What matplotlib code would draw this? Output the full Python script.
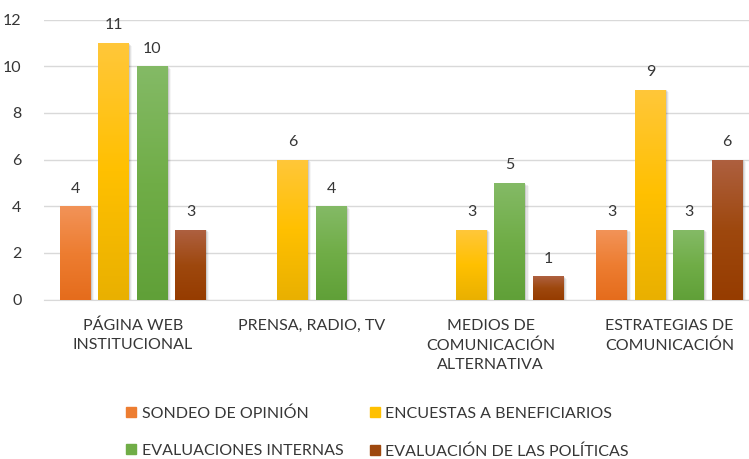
import matplotlib.pyplot as plt
import matplotlib.colors as mcolors
from matplotlib.patches import Rectangle
import numpy as np

plt.rcParams['font.family'] = ['Lato', 'DejaVu Sans']

categorias = ['PÁGINA WEB\nINSTITUCIONAL', 'PRENSA, RADIO, TV',
              'MEDIOS DE\nCOMUNICACIÓN\nALTERNATIVA', 'ESTRATEGIAS DE\nCOMUNICACIÓN']
series = ['SONDEO DE OPINIÓN', 'ENCUESTAS A BENEFICIARIOS',
          'EVALUACIONES INTERNAS', 'EVALUACIÓN DE LAS POLÍTICAS']
sondeo = [4, 0, 0, 3]
encuestas = [11, 6, 3, 9]
evaluaciones = [10, 4, 5, 3]
politicas = [3, 0, 1, 6]
valores = [sondeo, encuestas, evaluaciones, politicas]

# color base y degradado (arriba, abajo) de cada serie
base = ['#ED7D31', '#FFC000', '#70AD47', '#9E480E']
degradado = [('#F29358', '#E56C1C'), ('#FFC73A', '#E9B000'),
             ('#84BA66', '#60A038'), ('#AE6040', '#963C00')]
gris = '#363636'

fig = plt.figure(figsize=(7.49, 4.59), dpi=100)
ax = fig.add_axes([43.6 / 749, 1 - 299.5 / 459, 1 - 43.6 / 749, 280 / 459])

x = np.arange(len(categorias))
paso = 0.215
ancho = 0.173

for i, (vals, col, (c1, c2)) in enumerate(zip(valores, base, degradado)):
    pos = x + (i - 1.5) * paso
    cmap = mcolors.LinearSegmentedColormap.from_list('g%d' % i, [c2, col, c1])
    grad = np.linspace(0, 1, 256).reshape(-1, 1)
    for xp, v in zip(pos, vals):
        if v == 0:
            continue
        # sombra suave
        for k, a in enumerate([0.10, 0.07, 0.04]):
            d = 0.004 * (k + 1)
            ax.add_patch(Rectangle((xp - ancho / 2 + d * 0.5, -0.04 * (k + 1)),
                                   ancho + d, v, color='black', alpha=a,
                                   lw=0, zorder=2))
        bar = ax.bar(xp, v, width=ancho, color=col, zorder=3, lw=0)[0]
        im = ax.imshow(grad, cmap=cmap, origin='lower', aspect='auto',
                       extent=(xp - ancho / 2, xp + ancho / 2, 0, v), zorder=4)
        im.set_clip_path(bar)
        ax.text(xp, v + 0.45, str(v), ha='center', va='bottom',
                fontsize=11.5, color=gris, zorder=5)

ax.set_xlim(-0.5, 3.5 - 10 / 178.8)
ax.set_ylim(0, 12)
ax.set_yticks(range(0, 13, 2))
ax.yaxis.grid(True, color='#D9D9D9', lw=1)
ax.set_axisbelow(True)
for s in ['top', 'right', 'left']:
    ax.spines[s].set_visible(False)
ax.spines['bottom'].set_color('#D9D9D9')
ax.tick_params(axis='y', length=0, pad=16, labelsize=11.5, labelcolor=gris)
ax.set_xticks(x)
ax.set_xticklabels(categorias, fontsize=11.5, color=gris, linespacing=1.45)
ax.tick_params(axis='x', length=0, pad=14)

handles = [Rectangle((0, 0), 1, 1, color=c) for c in base]
orden = [0, 2, 1, 3]
fig.legend([handles[i] for i in orden], [series[i] for i in orden], ncol=2,
           loc='upper left', bbox_to_anchor=(112 / 749, 1 - 392 / 459),
           frameon=False, fontsize=11.5, labelcolor=gris,
           handlelength=0.6, handleheight=0.6, handletextpad=0.35,
           columnspacing=1.7, labelspacing=1.45)

fig.savefig('out.png', dpi=100)
